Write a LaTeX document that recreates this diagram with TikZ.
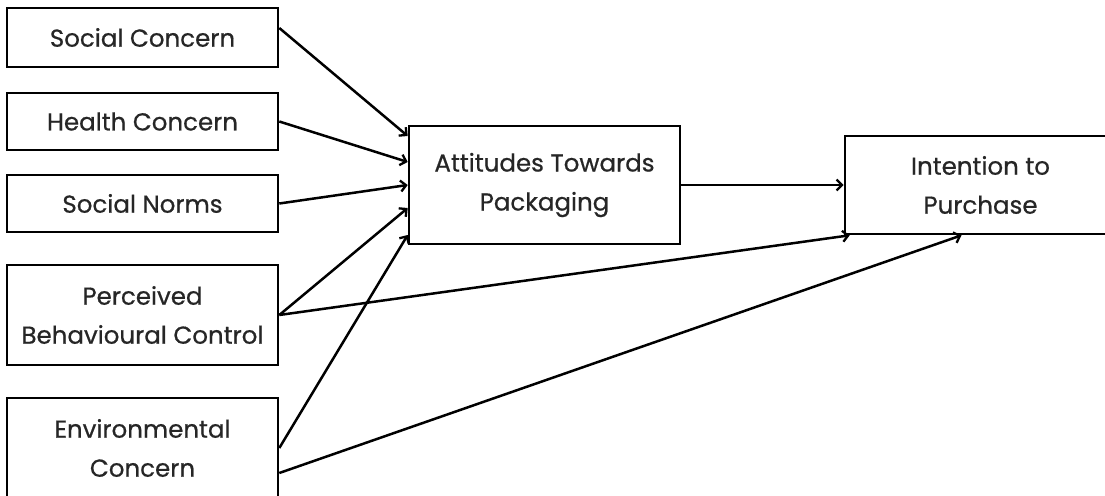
\documentclass[tikz,border=0pt]{standalone}
\usepackage{fontspec}
\setmainfont{Poppins}[FakeBold=0.6]
\usetikzlibrary{arrows.meta,calc}
\tikzset{
  boxnode/.style={draw=black, line width=2.6pt, minimum width=271pt, align=center, inner sep=0pt,
    font=\fontsize{24.5}{39}\selectfont, text=black!85},
  conn/.style={line width=2.5pt, -{Straight Barb[length=5.5pt,width=11pt,line width=2.3pt]}}
}
\begin{document}
\begin{tikzpicture}[x=1pt,y=-1pt]
\useasboundingbox (0,0) rectangle (1105,495);
\clip (0,0) rectangle (1105,495);
\fill[white] (0,0) rectangle (1105,495);
\node[boxnode, minimum height=59pt] (sc) at (142.5,37.5) {Social Concern};
\node[boxnode, minimum height=57pt] (hc) at (142.5,121.5) {Health Concern};
\node[boxnode, minimum height=57pt] (sn) at (142.5,203.5) {Social Norms};
\node[boxnode, minimum height=100pt] (pbc) at (142.5,315) {Perceived\\Behavioural Control};
\node[boxnode, minimum height=100pt] (ec) at (142.5,448) {Environmental\\Concern};
\node[boxnode, minimum height=118pt] (atp) at (544.5,185) {Attitudes Towards\\Packaging};
\node[boxnode, minimum height=98pt] (itp) at (980.5,185) {Intention to\\Purchase};
\draw[conn] ([yshift=9.5pt]sc.east) -- ([yshift=49pt]atp.west);
\draw[conn] (hc.east) -- ([yshift=23pt]atp.west);
\draw[conn] (sn.east) -- (atp.west);
\draw[conn] (pbc.east) -- ([yshift=-23pt]atp.west);
\draw[conn] (ec.east) -- ([yshift=-50pt]atp.west);
\draw[conn] (atp.east) -- (itp.west);
\draw[conn] (pbc.east) -- ([xshift=6pt]itp.south west);
\draw[conn] ([yshift=-25pt]ec.east) -- ([xshift=-19pt]itp.south);
\end{tikzpicture}
\end{document}
